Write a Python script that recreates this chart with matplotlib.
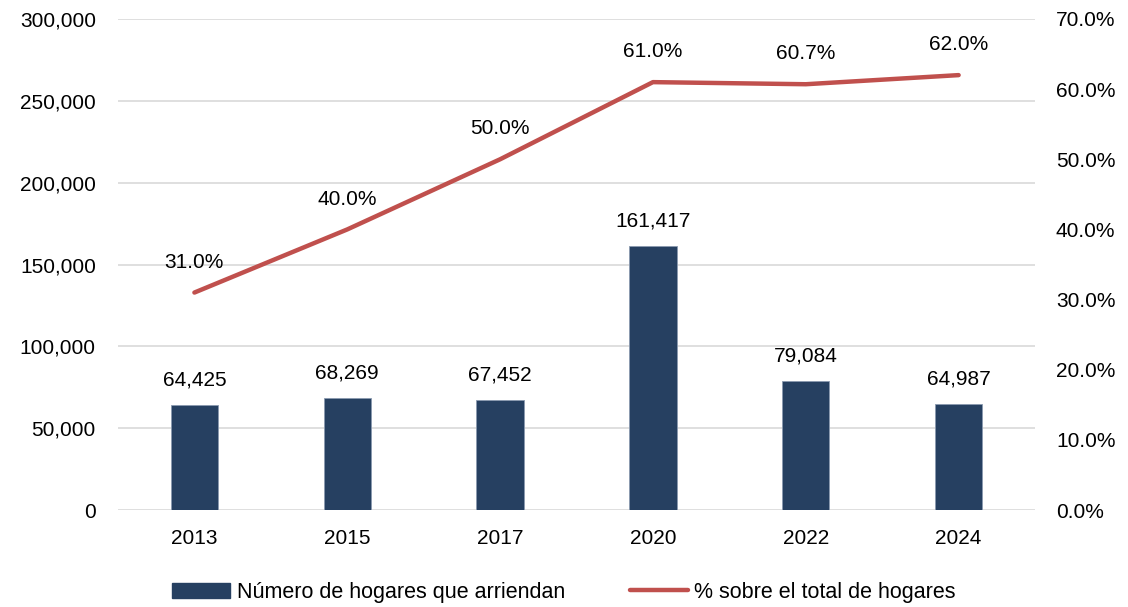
import matplotlib.pyplot as plt
from matplotlib.ticker import FuncFormatter
from matplotlib.lines import Line2D
from matplotlib.patches import Patch

years = ['2013', '2015', '2017', '2020', '2022', '2024']
hogares = [64425, 68269, 67452, 161417, 79084, 64987]
porcentaje = [31.0, 40.0, 50.0, 61.0, 60.7, 62.0]

bar_color = '#264061'
line_color = '#C0504D'

plt.rcParams['font.family'] = ['Liberation Sans', 'DejaVu Sans']

fig = plt.figure(figsize=(11.28, 6.07), dpi=100)
ax = fig.add_axes([0.1046, 0.1598, 0.8130, 0.8089])
ax2 = ax.twinx()

x = range(len(years))
ax.bar(x, hogares, width=0.31, color=bar_color, edgecolor='#8a9ab0', linewidth=0.6, zorder=2)
for i, v in enumerate(hogares):
    ax.annotate(f'{v:,}', (i, v), xytext=(0, 11), textcoords='offset points',
                ha='center', va='bottom', fontsize=15)

ax2.plot(x, porcentaje, color=line_color, linewidth=3.2, solid_capstyle='round', zorder=3)
for i, v in enumerate(porcentaje):
    ax2.annotate(f'{v:.1f}%', (i, v), xytext=(0, 15), textcoords='offset points',
                 ha='center', va='bottom', fontsize=15)

ax.set_xlim(-0.5, len(years) - 0.5)
ax.set_ylim(0, 300000)
ax2.set_ylim(0, 70)
ax.set_yticks(range(0, 300001, 50000))
ax2.set_yticks(range(0, 71, 10))
ax.yaxis.set_major_formatter(FuncFormatter(lambda v, p: f'{int(v):,}'))
ax2.yaxis.set_major_formatter(FuncFormatter(lambda v, p: f'{v:.1f}%'))
ax.set_xticks(list(x))
ax.set_xticklabels(years)

ax.grid(axis='y', color='#d9d9d9', linewidth=1.2, zorder=0)
ax.set_axisbelow(True)
for a in (ax, ax2):
    for s in a.spines.values():
        s.set_visible(False)
    a.tick_params(length=0, labelsize=15, colors='black')
ax.tick_params(axis='y', pad=16)
ax2.tick_params(axis='y', pad=15)
ax.tick_params(axis='x', pad=14)

handles = [Patch(facecolor=bar_color, edgecolor=bar_color),
           Line2D([0], [0], color=line_color, linewidth=3.2, solid_capstyle='round')]
labels = ['Número de hogares que arriendan', '% sobre el total de hogares']
fig.legend(handles, labels, loc='center', bbox_to_anchor=(0.5, 0.024), ncol=2, frameon=False,
           fontsize=15.5, handlelength=2.7, handleheight=0.7,
           handletextpad=0.3, columnspacing=3.0)

fig.savefig('out.png', dpi=100)
